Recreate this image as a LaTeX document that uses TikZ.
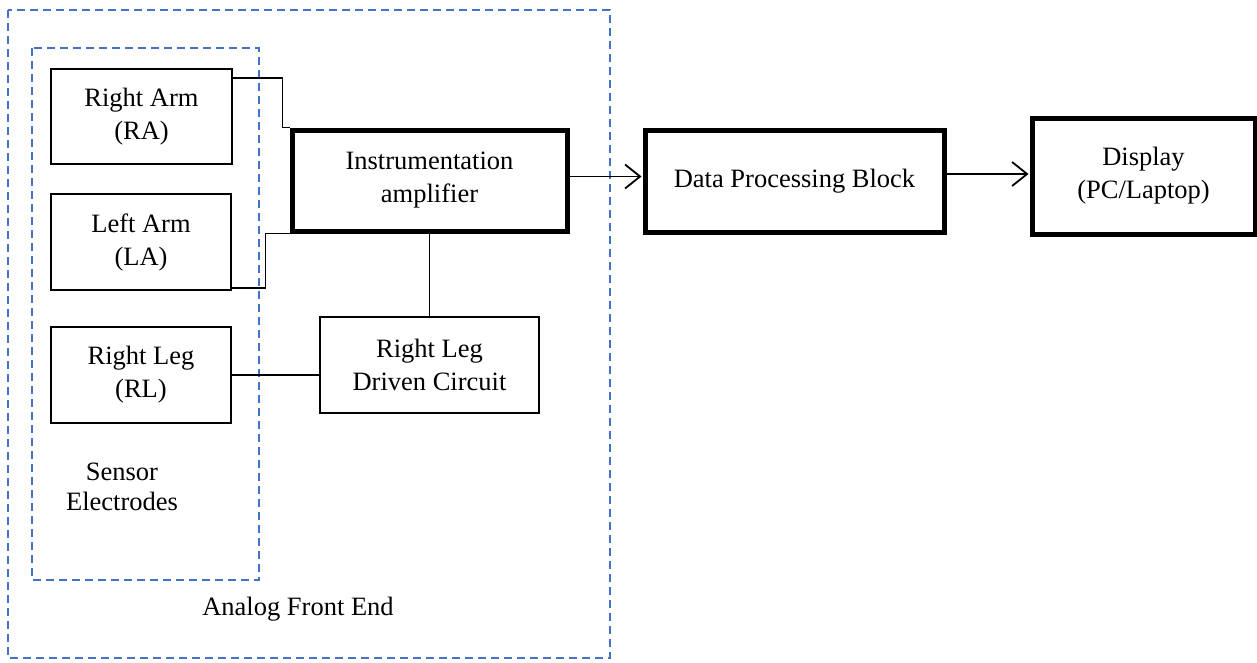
\documentclass[tikz,border=0pt]{standalone}
\usepackage{fontspec}
\setmainfont{Liberation Serif}
\usepackage{tikz}
\usetikzlibrary{calc,positioning,arrows.meta}

\begin{document}
\begin{tikzpicture}[x=1pt, y=-1pt,
        block/.style={draw, line width=2.5pt, inner sep=0pt, align=center,
            font=\fontsize{26.5}{33}\selectfont},
        thickblock/.style={block, line width=5pt},
        frame/.style={draw=framecol, line width=2pt, dash pattern=on 8pt off 5pt},
        wire/.style={line width=1.8pt},
        flow/.style={wire, -{Straight Barb[length=15pt,width=24pt,line width=1.8pt]}},
        caption/.style={align=center, font=\fontsize{26.5}{30}\selectfont}]
    \definecolor{framecol}{RGB}{68,114,196}
    \useasboundingbox (0,0) rectangle (1257,662);

         \draw[frame](8, 10) rectangle (610, 658);
         \draw[frame](32, 48) rectangle (259, 580);

         \node[block, minimum width=181pt, minimum height=95pt] (ra) at(141.5, 116.5){Right Arm\\(RA)};
         \node[block, minimum width=180pt, minimum height=96pt] (la) at(141, 242){Left Arm\\(LA)};
         \node[block, minimum width=180pt, minimum height=96pt] (rl) at(141, 375){Right Leg\\(RL)};
             \node[caption] (sensor) at(122, 487){Sensor\\Electrodes};

         \node[thickblock, minimum width=275pt, minimum height=101pt] (amp) at(429.5, 180.5){Instrumentation\\amplifier};
         \node[block, minimum width=219pt, minimum height=96pt] (rld) at(429.5, 365){Right Leg\\Driven Circuit};
             \node[caption] (afe) at(298, 609){Analog Front End};

         \node[thickblock, minimum width=299pt, minimum height=102pt] (dpb) at(794.5, 181){Data Processing Block};
         \node[thickblock, minimum width=223pt, minimum height=116pt] (disp) at(1143.5, 176){Display\\(PC/Laptop)};

         \coordinate (ampout) at ($(amp.east)+(0, -4)$);
         \coordinate (dpbin) at (ampout -| dpb.west);
         \coordinate (dpbout) at ($(dpb.east)+(0, -7)$);
         \coordinate (dispin) at (dpbout -| disp.west);

         \draw[wire] ($(ra.north east)+(0, 10)$) -| ($(amp.north west)+(-7, 0)$) -- (amp.north west);
         \draw[wire] ($(la.south east)+(0, -3)$) -| ($(amp.south west)+(-24, 0)$) -- (amp.south west);
         \draw[wire] (amp.south) -- (rld.north);
         \draw[wire] (rl.east) -- (rl.east -| rld.west);

         \draw[flow] (ampout) -- ($(dpbin)+(-1, 0)$);
         \draw[flow] (dpbout) -- ($(dispin)+(-1, 0)$);

\end{tikzpicture}
\end{document}
